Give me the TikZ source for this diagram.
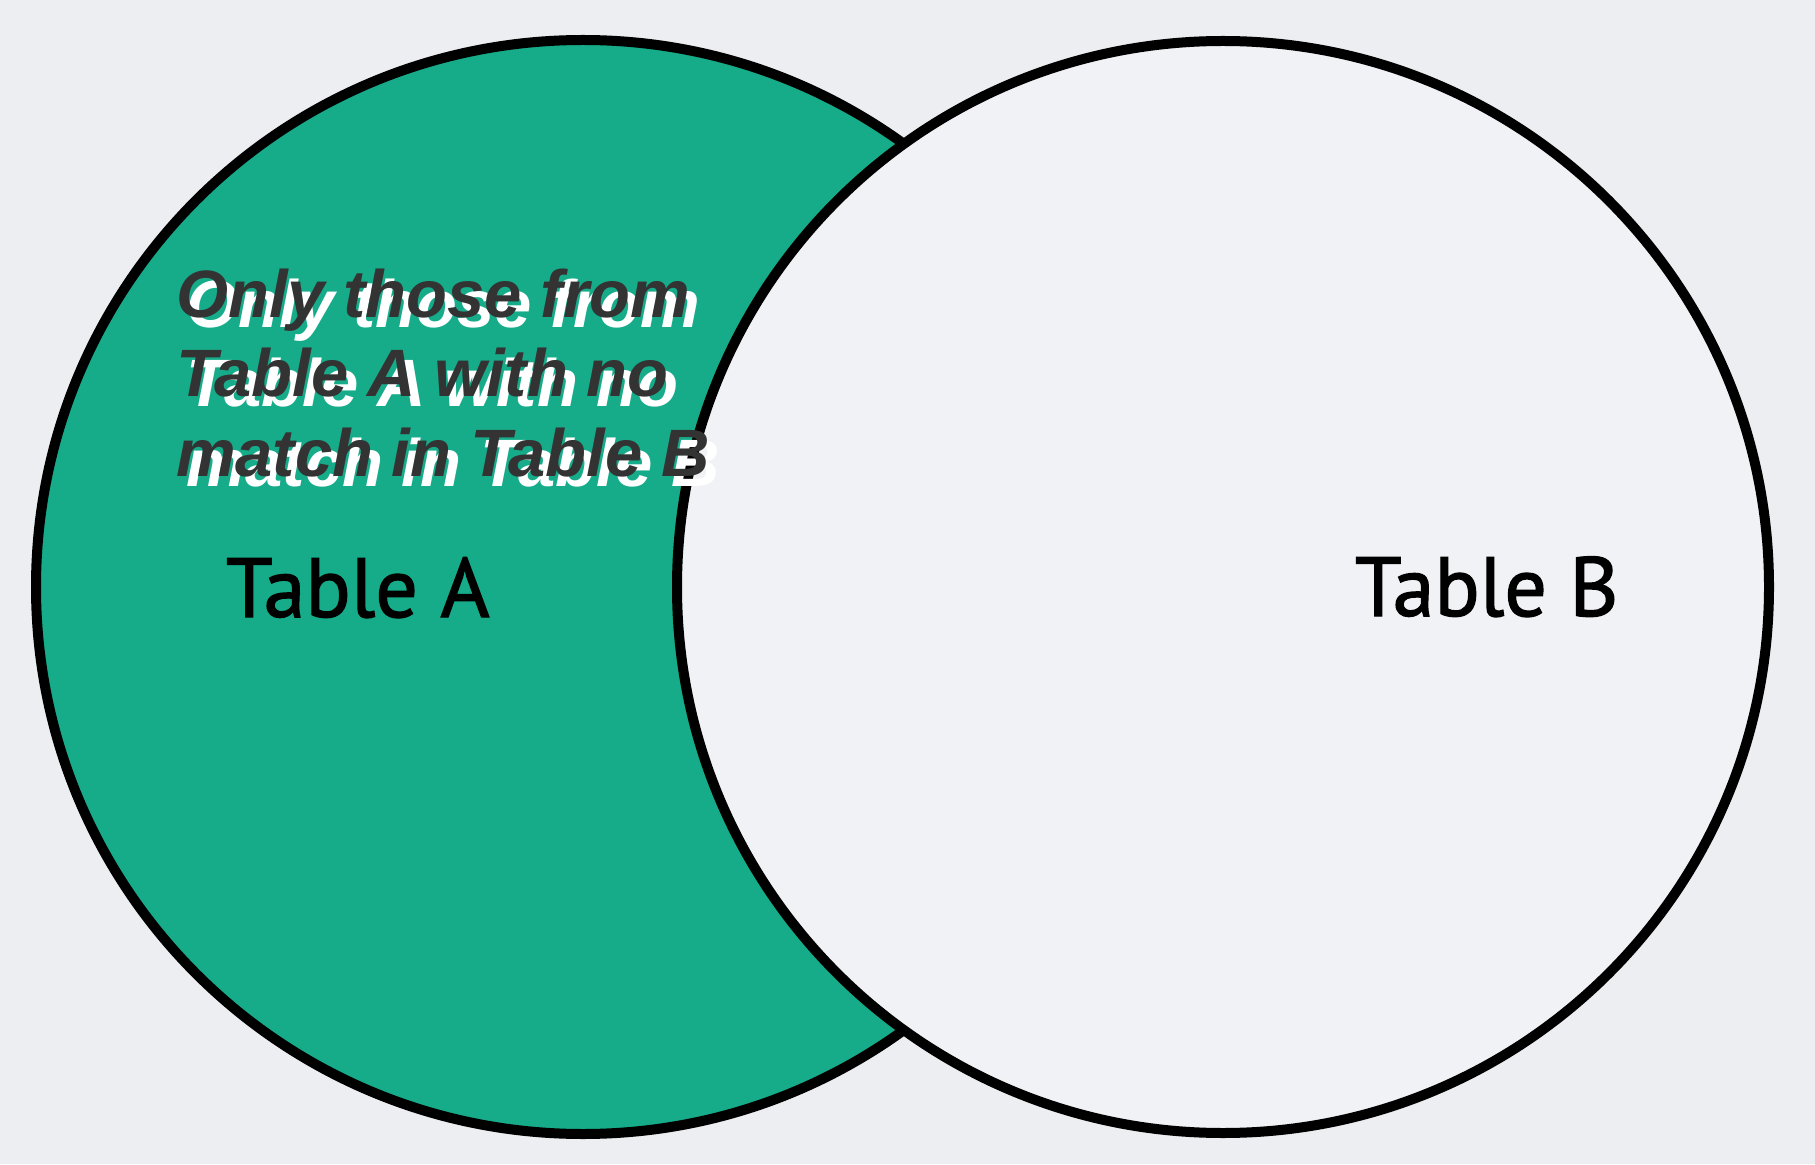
\documentclass[tikz,border=0pt]{standalone}
\usepackage{fontspec}
\setmainfont{Liberation Sans}
\newfontfamily\tablefont[FakeBold=1.6]{PT Sans}
\usetikzlibrary{positioning}
\definecolor{ground}{HTML}{EDEEF1}
\definecolor{surfb}{HTML}{F1F2F5}
\definecolor{brand}{HTML}{16AC8A}
\definecolor{ink}{HTML}{000000}
\definecolor{inkii}{HTML}{333333}
\tikzset{
  rim/.style     = {draw=ink, line width=5pt},
  tablab/.style  = {font=\fontsize{42}{44}\selectfont\tablefont\color{ink}, anchor=base west, inner sep=0pt, outer sep=0pt},
  note/.style    = {font=\fontsize{33.5}{40}\selectfont\bfseries\itshape, anchor=base west, inner sep=0pt, outer sep=0pt},
}
\begin{document}
\begin{tikzpicture}[x=0.5pt,y=0.5pt]
\fill[ground] (0,0) rectangle (1815,1164);
\useasboundingbox (0,0) rectangle (1815,1164);

% ---- the two tables ------------------------------------------------------
\fill[brand] (583,577) circle (547);
\draw[rim]   (583,577) circle (547);
\fill[surfb] (1223,577) circle (546);
\draw[rim]   (1223,577) circle (546);

\node[tablab] (taba) at (226,547) {Table A};
\node[tablab] (tabb) at (1355,548) {Table B};

% ---- the note, white shadow first ----------------------------------------
\foreach \i/\y/\what in {1/846/{Only those from}, 2/767/{Table A with no}, 3/687/{match in Table B}} {
  \node[note, text=white] (shade\i) at (186,\y-10) {\what};
  \node[note, text=inkii] (note\i)  at (176,\y) {\what};
}
\end{tikzpicture}
\end{document}
